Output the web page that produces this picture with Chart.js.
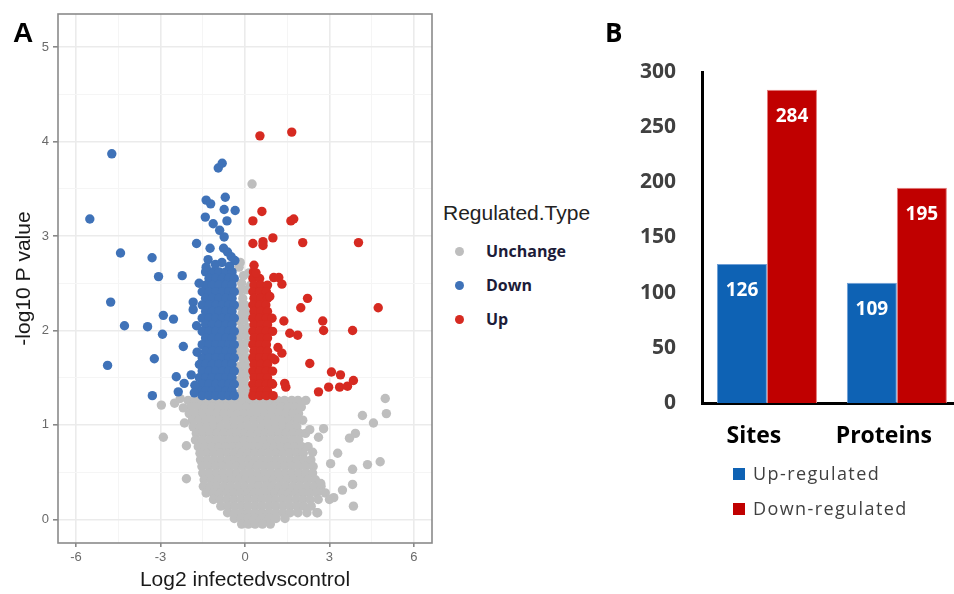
<!DOCTYPE html>
<html>
<head>
<meta charset="utf-8">
<script src="https://cdn.jsdelivr.net/npm/chart.js@4.4.1/dist/chart.umd.min.js"></script>
<style>
  html, body { margin: 0; padding: 0; background: #fff; overflow: hidden; }
  #fig { position: relative; width: 954px; height: 594px; overflow: hidden; }
  canvas { position: absolute; }
  #volcano { left: 0; top: 0; }
  #bars { left: 620px; top: 0; }
  .tag { position: absolute; font-weight: bold; color: #000; line-height: 1; }
  .abs { position: absolute; white-space: nowrap; }
  .legA-title { font: 21px "Liberation Sans", Arial, sans-serif; color: #222; }
  .legA-item { font: bold 16px "Open Sans", sans-serif; color: #1c1c38; }
  .dot { position: absolute; width: 9px; height: 9px; border-radius: 50%; }
  .legB-item { font: 18px "Open Sans", sans-serif; color: #404040; letter-spacing: 1.4px; }
  .sq { position: absolute; width: 12px; height: 12px; }
</style>
</head>
<body>
<div id="fig">
  <canvas id="volcano" width="440" height="594"></canvas>
  <canvas id="bars" width="345" height="470"></canvas>

  <div class="tag" style="left:13px; top:19px; font-family:'Liberation Sans',Arial,sans-serif; font-size:28px;">A</div>
  <div class="tag" style="left:605px; top:19px; font-family:'Open Sans',sans-serif; font-size:26px;">B</div>

  <!-- legend of panel A -->
  <div class="abs legA-title" style="left:443px; top:201px;">Regulated.Type</div>
  <div class="dot" style="left:455px; top:247px; background:#bebebe;"></div>
  <div class="abs legA-item" style="left:486px; top:240px;">Unchange</div>
  <div class="dot" style="left:455px; top:281px; background:#3f72b8;"></div>
  <div class="abs legA-item" style="left:486px; top:274px;">Down</div>
  <div class="dot" style="left:455px; top:315px; background:#d62a21;"></div>
  <div class="abs legA-item" style="left:486px; top:308px;">Up</div>

  <!-- legend of panel B -->
  <div class="sq" style="left:733px; top:468px; background:#0e62b4;"></div>
  <div class="abs legB-item" style="left:753px; top:461px;">Up-regulated</div>
  <div class="sq" style="left:733px; top:503px; background:#c00000;"></div>
  <div class="abs legB-item" style="left:753px; top:496px;">Down-regulated</div>
</div>

<script>
// ---- panel A : volcano plot ----
const xTicks = [-6, -4.5, -3, -1.5, 0, 1.5, 3, 4.5, 6]
const yTicks = [0, 0.5, 1, 1.5, 2, 2.5, 3, 3.5, 4, 4.5, 5]

// dense grey cloud, one row per -log10 p level: [y, [x, x, ...]]
const unchangeRows = [
  [1.26, [-2.02, -1.78, -1.52, -1.29, -1.03, -0.8, -0.56, -0.31, -0.07, 0.18, 0.42, 0.67, 0.91, 1.16, 1.4, 1.66, 1.88]],
  [1.19, [-1.92, -1.66, -1.41, -1.17, -0.92, -0.68, -0.43, -0.19, 0.05, 0.3, 0.55, 0.79, 1.03, 1.28, 1.53, 1.77, 2.0]],
  [1.12, [-1.98, -1.74, -1.49, -1.25, -1.01, -0.76, -0.52, -0.27, -0.03, 0.22, 0.46, 0.7, 0.95, 1.2, 1.44, 1.69, 1.9]],
  [1.05, [-1.87, -1.62, -1.38, -1.14, -0.89, -0.65, -0.4, -0.16, 0.09, 0.33, 0.58, 0.82, 1.07, 1.31, 1.56, 1.8, 2.05]],
  [0.98, [-1.84, -1.6, -1.35, -1.1, -0.86, -0.61, -0.37, -0.12, 0.12, 0.37, 0.61, 0.86, 1.1, 1.35, 1.59, 1.84]],
  [0.91, [-1.73, -1.48, -1.24, -0.99, -0.75, -0.5, -0.26, -0.01, 0.23, 0.48, 0.72, 0.97, 1.21, 1.46, 1.7, 1.95, 2.15]],
  [0.84, [-1.76, -1.52, -1.27, -1.03, -0.78, -0.54, -0.29, -0.05, 0.2, 0.44, 0.69, 0.93, 1.18, 1.42, 1.67, 1.91]],
  [0.77, [-1.66, -1.41, -1.17, -0.92, -0.68, -0.43, -0.19, 0.06, 0.3, 0.55, 0.79, 1.04, 1.28, 1.53, 1.77, 2.02, 2.24]],
  [0.70, [-1.6, -1.36, -1.11, -0.87, -0.62, -0.38, -0.13, 0.11, 0.36, 0.6, 0.85, 1.09, 1.34, 1.58, 1.83, 2.07]],
  [0.63, [-1.58, -1.33, -1.09, -0.84, -0.6, -0.35, -0.11, 0.14, 0.38, 0.63, 0.87, 1.12, 1.36, 1.61, 1.85, 2.1, 2.34]],
  [0.56, [-1.53, -1.28, -1.04, -0.79, -0.55, -0.3, -0.06, 0.19, 0.43, 0.68, 0.92, 1.17, 1.41, 1.66, 1.9, 2.15, 2.42]],
  [0.49, [-1.5, -1.26, -1.01, -0.77, -0.52, -0.28, -0.03, 0.21, 0.46, 0.7, 0.95, 1.19, 1.44, 1.68, 1.93, 2.17, 2.4]],
  [0.42, [-1.45, -1.2, -0.96, -0.71, -0.47, -0.22, 0.02, 0.27, 0.51, 0.76, 1.0, 1.25, 1.49, 1.74, 1.98, 2.23, 2.5]],
  [0.35, [-1.48, -1.23, -0.99, -0.74, -0.5, -0.25, -0.01, 0.24, 0.48, 0.73, 0.97, 1.22, 1.46, 1.71, 1.95, 2.2, 2.44, 2.7]],
  [0.28, [-1.38, -1.13, -0.89, -0.64, -0.4, -0.15, 0.09, 0.34, 0.58, 0.83, 1.07, 1.32, 1.56, 1.81, 2.05, 2.3, 2.55, 2.85]],
  [0.21, [-1.12, -0.88, -0.63, -0.39, -0.14, 0.1, 0.35, 0.59, 0.84, 1.08, 1.33, 1.57, 1.82, 2.06, 2.31, 2.6, 3.0]],
  [0.14, [-0.86, -0.61, -0.37, -0.12, 0.12, 0.37, 0.61, 0.86, 1.1, 1.35, 1.59, 1.84, 2.08, 2.35]],
  [0.07, [-0.62, -0.37, -0.13, 0.11, 0.36, 0.6, 0.85, 1.09, 1.34, 1.6, 1.88, 2.2, 2.55]],
  [0.01, [-0.38, -0.14, 0.11, 0.35, 0.6, 0.84, 1.1, 1.42]],
  [-0.05, [-0.12, 0.12, 0.36, 0.62, 0.9]]
]
// grey strip between the two bands and the scattered grey points
const unchangeExtra = [
  [-0.2, 1.33], [0.0, 1.33], [0.14, 1.34], [-0.1, 1.40], [0.08, 1.41], [-0.22, 1.47], [-0.02, 1.48],
  [-0.12, 1.55], [0.1, 1.55], [-0.2, 1.62], [0.02, 1.63], [-0.08, 1.70], [0.1, 1.71], [-0.2, 1.78],
  [-0.02, 1.79], [-0.1, 1.86], [0.08, 1.87], [-0.22, 1.94], [0.0, 1.95], [-0.12, 2.02], [0.1, 2.03],
  [-0.2, 2.10], [-0.02, 2.11], [-0.1, 2.18], [0.06, 2.19], [-0.2, 2.26], [0.0, 2.27], [-0.08, 2.34],
  [-0.18, 2.42], [0.05, 2.43], [-0.12, 2.5], [0.2, 2.48], [-0.05, 2.58], [0.14, 2.61], [-0.21, 2.67],
  [-0.17, 2.72], [0.25, 3.55],
  [-2.97, 1.21], [-2.5, 1.23], [-2.3, 1.28], [-2.19, 1.18], [-2.15, 1.02], [-2.08, 0.78], [-2.08, 0.43],
  [-2.9, 0.87], [4.98, 1.28], [5.02, 1.12], [4.17, 1.10], [4.56, 1.02], [3.92, 0.91], [3.71, 0.86],
  [2.79, 0.96], [2.61, 0.87], [3.29, 0.70], [2.4, 0.71], [3.04, 0.59], [3.82, 0.53], [4.35, 0.58],
  [4.8, 0.61], [3.82, 0.37], [3.85, 0.14], [2.69, 0.38], [3.46, 0.31], [2.16, 1.26], [1.87, 1.07],
  [2.3, 0.95], [3.15, 0.23], [2.58, 0.07]
]

const downRows = [
  [2.62, [-1.4, -1.16, -0.92, -0.68, -0.46]],
  [2.55, [-1.28, -1.04, -0.8, -0.58, -0.38]],
  [2.48, [-1.4, -1.16, -0.92, -0.68, -0.46]],
  [2.41, [-1.52, -1.28, -1.04, -0.8, -0.58, -0.38]],
  [2.34, [-1.4, -1.16, -0.92, -0.68, -0.46]],
  [2.27, [-1.52, -1.28, -1.04, -0.8, -0.58, -0.38]],
  [2.20, [-1.4, -1.16, -0.92, -0.68, -0.46]],
  [2.13, [-1.52, -1.28, -1.04, -0.8, -0.58, -0.38]],
  [2.06, [-1.4, -1.16, -0.92, -0.68, -0.46]],
  [1.99, [-1.52, -1.28, -1.04, -0.8, -0.58, -0.38]],
  [1.92, [-1.4, -1.16, -0.92, -0.68, -0.46]],
  [1.85, [-1.52, -1.28, -1.04, -0.8, -0.58, -0.38]],
  [1.78, [-1.4, -1.16, -0.92, -0.68, -0.46]],
  [1.71, [-1.52, -1.28, -1.04, -0.8, -0.58, -0.38]],
  [1.64, [-1.62, -1.4, -1.16, -0.92, -0.68, -0.46]],
  [1.57, [-1.52, -1.28, -1.04, -0.8, -0.58, -0.38]],
  [1.50, [-1.62, -1.4, -1.16, -0.92, -0.68, -0.46]],
  [1.43, [-1.52, -1.28, -1.04, -0.8, -0.58, -0.38]],
  [1.36, [-1.62, -1.4, -1.16, -0.92, -0.68, -0.46]],
  [1.31, [-1.52, -1.28, -1.04, -0.8, -0.58, -0.38]]
]
const downExtra = [
  [-4.73, 3.87], [-5.51, 3.18], [-4.42, 2.82], [-3.3, 2.77], [-3.07, 2.57], [-2.23, 2.58], [-1.72, 2.92],
  [-1.63, 2.5], [-4.77, 2.3], [-4.28, 2.05], [-3.46, 2.04], [-2.9, 2.16], [-2.54, 2.12], [-2.93, 1.96],
  [-2.19, 1.83], [-3.22, 1.7], [-4.88, 1.63], [-2.44, 1.51], [-1.91, 1.53], [-2.16, 1.44], [-2.37, 1.35],
  [-3.29, 1.31], [-1.84, 2.3], [-1.84, 2.22], [-1.78, 1.42], [-1.8, 1.34], [-1.7, 1.77], [-1.72, 2.05],
  [-0.95, 3.72], [-0.81, 3.77], [-1.41, 3.2], [-1.38, 3.38], [-1.22, 3.34], [-0.7, 3.41], [-0.74, 3.28],
  [-0.35, 3.27], [-0.64, 3.16], [-1.13, 3.13], [-0.9, 3.06], [-0.74, 2.99], [-1.24, 2.87], [-1.31, 2.75],
  [-0.76, 2.87], [-0.62, 2.83], [-0.49, 2.78], [-0.36, 2.74], [-1.38, 2.67], [-1.05, 2.7], [-0.82, 2.72],
  [-0.55, 2.68]
]

const upRows = [
  [2.62, [0.3]],
  [2.55, [0.28, 0.52]],
  [2.48, [0.32, 0.56, 0.8]],
  [2.41, [0.28, 0.52, 0.76]],
  [2.34, [0.32, 0.56, 0.8]],
  [2.27, [0.28, 0.52, 0.74]],
  [2.20, [0.32, 0.56, 0.8]],
  [2.13, [0.28, 0.52, 0.76, 0.96]],
  [2.06, [0.32, 0.56, 0.8]],
  [1.99, [0.28, 0.52, 0.76, 0.98]],
  [1.92, [0.32, 0.56, 0.8]],
  [1.85, [0.28, 0.52, 0.76]],
  [1.78, [0.32, 0.56, 0.8]],
  [1.71, [0.28, 0.52, 0.76, 0.96]],
  [1.64, [0.32, 0.56, 0.8]],
  [1.57, [0.28, 0.52, 0.76, 0.98]],
  [1.50, [0.32, 0.56, 0.8]],
  [1.43, [0.28, 0.52, 0.76, 0.98]],
  [1.36, [0.32, 0.56, 0.8]],
  [1.31, [0.28, 0.52, 0.76, 1.0]]
]
const upExtra = [
  [0.53, 4.06], [1.66, 4.10], [0.6, 3.26], [0.28, 3.16], [1.63, 3.16], [1.73, 3.18], [0.28, 2.92],
  [0.64, 2.94], [0.64, 2.9], [0.99, 2.98], [2.05, 2.93], [4.03, 2.93], [0.32, 2.69], [0.39, 2.61],
  [1.02, 2.56], [1.2, 2.56], [1.31, 2.49], [0.88, 2.36], [2.22, 2.34], [1.98, 2.24], [4.73, 2.24],
  [1.38, 2.10], [2.76, 2.10], [2.79, 2.0], [3.82, 2.0], [1.59, 1.97], [1.87, 1.95], [1.17, 1.82],
  [1.31, 1.76], [1.06, 1.69], [2.3, 1.65], [3.07, 1.56], [3.39, 1.53], [1.41, 1.44], [1.45, 1.40],
  [2.61, 1.35], [2.97, 1.40], [3.36, 1.40], [3.64, 1.41], [3.85, 1.47], [0.95, 1.44]
]

// ---- panel B : bar chart ----
const barCategories = ['Sites', 'Proteins']
const upRegulated = [126, 109]
const downRegulated = [284, 195]
const barTicks = [0, 50, 100, 150, 200, 250, 300]

const rowsToPoints = rows => rows.flatMap(([y, xs]) => xs.map(x => ({ x: x, y: y })))
const pairsToPoints = pairs => pairs.map(([x, y]) => ({ x: x, y: y }))

const isMajorX = v => v % 3 === 0
const isMajorY = v => Number.isInteger(v)

const panelBorder = {
  id: 'panelBorder',
  afterDraw(chart) {
    const a = chart.chartArea
    const ctx = chart.ctx
    ctx.save()
    ctx.strokeStyle = '#8a8a8a'
    ctx.lineWidth = 1.6
    ctx.strokeRect(a.left, a.top, a.right - a.left, a.bottom - a.top)
    ctx.restore()
  }
}

const sans = '"Liberation Sans", Arial, sans-serif'

new Chart(document.getElementById('volcano'), {
  type: 'scatter',
  data: {
    datasets: [
      { label: 'Unchange', data: rowsToPoints(unchangeRows).concat(pairsToPoints(unchangeExtra)), backgroundColor: '#bebebe', order: 3 },
      { label: 'Down', data: rowsToPoints(downRows).concat(pairsToPoints(downExtra)), backgroundColor: '#3f72b8', order: 2 },
      { label: 'Up', data: rowsToPoints(upRows).concat(pairsToPoints(upExtra)), backgroundColor: '#d62a21', order: 1 }
    ]
  },
  options: {
    responsive: false,
    animation: false,
    layout: { padding: { top: 14, right: 8, left: 0, bottom: 0 } },
    elements: { point: { radius: 4.7, hoverRadius: 4.7, borderWidth: 0 } },
    plugins: { legend: { display: false }, tooltip: { enabled: false } },
    scales: {
      x: {
        type: 'linear', min: -6.64, max: 6.64,
        afterBuildTicks: s => { s.ticks = xTicks.map(v => ({ value: v })) },
        afterFit: s => { s.height = 51 },
        border: { display: false },
        grid: {
          color: c => isMajorX(c.tick.value) ? '#ebebeb' : '#f5f5f5',
          lineWidth: c => isMajorX(c.tick.value) ? 1.6 : 1,
          tickColor: c => isMajorX(c.tick.value) ? '#888' : 'rgba(0,0,0,0)',
          tickLength: 4
        },
        ticks: {
          autoSkip: false, maxRotation: 0, padding: 3, color: '#6a6a6a',
          font: { family: sans, size: 13 },
          callback: v => isMajorX(v) ? String(v) : ''
        },
        title: { display: true, text: 'Log2 infectedvscontrol', color: '#1a1a1a', font: { family: sans, size: 21 }, padding: { top: 0, bottom: 1 } }
      },
      y: {
        type: 'linear', min: -0.25, max: 5.35,
        afterBuildTicks: s => { s.ticks = yTicks.map(v => ({ value: v })) },
        afterFit: s => { s.width = 58 },
        border: { display: false },
        grid: {
          color: c => isMajorY(c.tick.value) ? '#ebebeb' : '#f5f5f5',
          lineWidth: c => isMajorY(c.tick.value) ? 1.6 : 1,
          tickColor: c => isMajorY(c.tick.value) ? '#888' : 'rgba(0,0,0,0)',
          tickLength: 5
        },
        ticks: {
          autoSkip: false, padding: 4, color: '#6a6a6a',
          font: { family: sans, size: 13 },
          callback: v => isMajorY(v) ? String(v) : ''
        },
        title: { display: true, text: '-log10 P value', color: '#1a1a1a', font: { family: sans, size: 21 }, padding: { top: 12, bottom: 0 } }
      }
    }
  },
  plugins: [panelBorder]
})

// numbers written inside the top of each bar
const barValueLabels = {
  id: 'barValueLabels',
  afterDatasetsDraw(chart) {
    const ctx = chart.ctx
    ctx.save()
    ctx.fillStyle = '#ffffff'
    ctx.font = 'bold 19px "Open Sans", sans-serif'
    ctx.textAlign = 'center'
    ctx.textBaseline = 'middle'
    chart.data.datasets.forEach((ds, i) => {
      chart.getDatasetMeta(i).data.forEach((bar, j) => {
        ctx.fillText(String(ds.data[j]), bar.x, bar.y + 27)
      })
    })
    ctx.restore()
  }
}

new Chart(document.getElementById('bars'), {
  type: 'bar',
  data: {
    labels: barCategories,
    datasets: [
      { label: 'Up-regulated', data: upRegulated, backgroundColor: '#0e62b4', borderColor: '#6f9fd6', borderWidth: 1 },
      { label: 'Down-regulated', data: downRegulated, backgroundColor: '#c00000', borderColor: '#e27a7a', borderWidth: 1 }
    ]
  },
  options: {
    responsive: false,
    animation: false,
    layout: { padding: { top: 72, right: 0, left: 0, bottom: 0 } },
    categoryPercentage: 0.77,
    barPercentage: 1.0,
    plugins: { legend: { display: false }, tooltip: { enabled: false } },
    scales: {
      x: {
        afterFit: s => { s.height = 67 },
        grid: { display: false, drawTicks: false },
        border: { color: '#000', width: 3 },
        ticks: { padding: 20, labelOffset: -13, color: '#000', font: { family: '"Open Sans", sans-serif', size: 23, weight: 'bold' } }
      },
      y: {
        min: 0, max: 300,
        afterBuildTicks: s => { s.ticks = barTicks.map(v => ({ value: v })) },
        afterFit: s => { s.width = 82 },
        grid: { display: false, drawTicks: false },
        border: { color: '#000', width: 3 },
        ticks: { padding: 26, color: '#404040', font: { family: '"Open Sans", sans-serif', size: 21, weight: 'bold' } }
      }
    }
  },
  plugins: [barValueLabels]
})
</script>
</body>
</html>
